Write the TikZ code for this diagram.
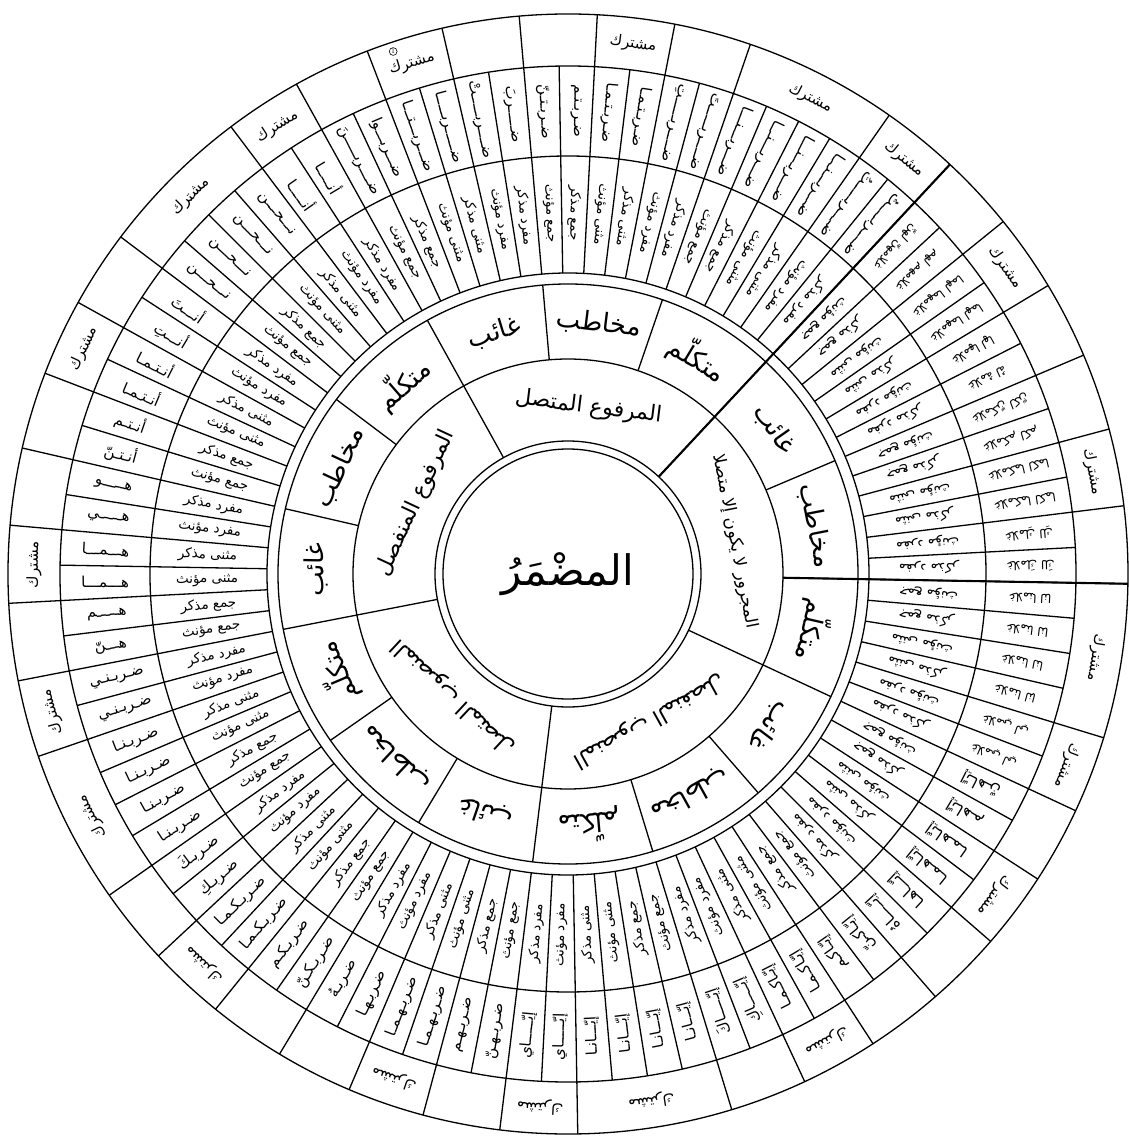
\documentclass[tikz,border=0pt]{standalone}
\usepackage{fontspec}
\newfontfamily\arabicfont[Script=Arabic]{DejaVu Sans}
\TeXXeTstate=1
\newcommand{\AR}[1]{{\arabicfont\beginR #1\endR}}
\newcommand{\formring}[3]{%
  \foreach \mytxt [count=\cc from 0] in {#3}{%
    \pgfmathsetmacro\angm{47+72*#1+4*\cc+2}%
    \node[formtext, font=\fontsize{#2}{#2}\selectfont, rotate=\angm-180]
      (form-#1-\cc) at (\angm:463pt) {\arabicfont\mytxt};%
  }%
}
\begin{document}
\begin{tikzpicture}[x=1pt,y=1pt,
  every node/.style={inner sep=0pt, outer sep=0pt},
  ringline/.style={line width=1.3pt, black},
  heavyline/.style={line width=2.1pt, black},
  formtext/.style={black},
  centretext/.style={font=\fontsize{42}{48}\selectfont},
  sectiontext/.style={font=\fontsize{22}{26}\selectfont},
  persontext/.style={font=\fontsize{26}{30}\selectfont},
  labeltext/.style={font=\fontsize{13.5}{15}\selectfont},
  sharedtext/.style={font=\fontsize{15}{17}\selectfont},
]
\useasboundingbox (-568,-567) rectangle (561,574);
\fill[white] (-568,-567) rectangle (561,574);

% concentric circles
\foreach \rad in {125,133,215,290,301,418,508,560}
  \draw[ringline] (0,0) circle (\rad pt);

% section boundaries
\foreach \sk in {0,...,4}
  \draw[ringline] (47+72*\sk:133pt) -- (47+72*\sk:215pt);
% person boundaries
\foreach \cj in {0,...,14}
  \draw[ringline] (47+24*\cj:215pt) -- (47+24*\cj:290pt);
% cell boundaries (labels and forms)
\foreach \ci in {0,...,89}
  \draw[ringline] (47+4*\ci:301pt) -- (47+4*\ci:508pt);
% outer ring groups
\foreach \sk in {0,...,4}
  \foreach \off in {0,8,24,32,40,48,56,64}
    \draw[ringline] (47+72*\sk+\off:508pt) -- (47+72*\sk+\off:560pt);
% heavier lines
\draw[heavyline] (47:133pt) -- (47:560pt);
\draw[heavyline] (-1:215pt) -- (-1:560pt);

% centre
\node[centretext] (centre) at (0,0) {\AR{المضْمَرُ}};

% sections
\node[sectiontext, rotate=83-90] (sec-0) at (83:168pt) {\AR{المرفوع المتصل}};
\node[sectiontext, rotate=155-90] (sec-1) at (155:168pt) {\AR{المرفوع المنفصل}};
\node[sectiontext, rotate=227-90] (sec-2) at (227:168pt) {\AR{المنصوب المتصل}};
\node[sectiontext, rotate=299-90] (sec-3) at (299:168pt) {\AR{المنصوب المنفصل}};
\node[font=\fontsize{17}{20}\selectfont, rotate=11-90] (sec-4) at (11:170pt) {\AR{المجرور لا يكون إلا متصلا}};

% persons
\foreach \cj in {0,...,14}{
  \pgfmathtruncatemacro\pp{mod(\cj,3)}
  \pgfmathsetmacro\angm{47+24*\cj+12}
  \ifcase\pp \def\mytxt{متكلّم}\or \def\mytxt{مخاطب}\or \def\mytxt{غائب}\fi
  \node[persontext, rotate=\angm-90] (per-\cj) at (\angm:252pt) {\AR{\mytxt}};
}

% labels
\foreach \ci in {0,...,89}{
  \pgfmathtruncatemacro\pp{mod(\ci,6)}
  \pgfmathsetmacro\angm{47+4*\ci+2}
  \ifcase\pp \def\mytxt{\beginR مفرد مذكر\endR}\or \def\mytxt{\beginR مفرد مؤنث\endR}\or
    \def\mytxt{\beginR مثنى مذكر\endR}\or \def\mytxt{\beginR مثنى مؤنث\endR}\or
    \def\mytxt{\beginR جمع مذكر\endR}\or \def\mytxt{\beginR جمع مؤنث\endR}\fi
  \node[labeltext, rotate=\angm-180] (lab-\ci) at (\angm:361pt) {\arabicfont\mytxt};
}

% forms
\formring{0}{15}{\beginR ضــــربـــــتُ\endR,\beginR ضــــربـــــتُ\endR,\beginR ضـــربـــنـــا\endR,\beginR ضـــربـــنـــا\endR,\beginR ضـــربـــنـــا\endR,\beginR ضـــربـــنـــا\endR,\beginR ضــــربـــــتَ\endR,\beginR ضــــربـــــتِ\endR,\beginR ضـربـتـمـا\endR,\beginR ضـربـتـمـا\endR,\beginR ضـربـتـم\endR,\beginR ضـربـتـنّ\endR,\beginR ضـــــربَ\endR,\beginR ضــــربـــــتْ\endR,\beginR ضـــــربـــــا\endR,\beginR ضـــربـــتـــا\endR,\beginR ضـــربـــوا\endR,\beginR ضــــربـــــنَ\endR}
\formring{1}{15}{\beginR أنـــــا\endR,\beginR أنـــــا\endR,\beginR نـــحـــن\endR,\beginR نـــحـــن\endR,\beginR نـــحـــن\endR,\beginR نـــحـــن\endR,\beginR أنـــتَ\endR,\beginR أنـــتِ\endR,\beginR أنـتـمـا\endR,\beginR أنـتـمـا\endR,\beginR أنـتـم\endR,\beginR أنـتـنّ\endR,\beginR هـــــو\endR,\beginR هـــــي\endR,\beginR هـــمـــا\endR,\beginR هـــمـــا\endR,\beginR هـــــم\endR,\beginR هـــنّ\endR}
\formring{2}{15}{\beginR ضـربـنـي\endR,\beginR ضـربـنـي\endR,\beginR ضـربـنـا\endR,\beginR ضـربـنـا\endR,\beginR ضـربـنـا\endR,\beginR ضـربـنـا\endR,\beginR ضـربـكَ\endR,\beginR ضـربـكِ\endR,\beginR ضـربـكـمـا\endR,\beginR ضـربـكـمـا\endR,\beginR ضـربـكـم\endR,\beginR ضـربـكـنّ\endR,\beginR ضـربـهُ\endR,\beginR ضـربـهـا\endR,\beginR ضـربـهـمـا\endR,\beginR ضـربـهـمـا\endR,\beginR ضـربـهـم\endR,\beginR ضـربـهـنّ\endR}
\formring{3}{15}{\beginR إيّـــــاي\endR,\beginR إيّـــــاي\endR,\beginR إيّـــانـا\endR,\beginR إيّـــانـا\endR,\beginR إيّـــانـا\endR,\beginR إيّـــانـا\endR,\beginR إيّـــــاكَ\endR,\beginR إيّـــــاكِ\endR,\beginR إيّـاكـمـا\endR,\beginR إيّـاكـمـا\endR,\beginR إيّـاكـم\endR,\beginR إيّـاكـنّ\endR,\beginR إيّـــــاهُ\endR,\beginR إيّـــاهـا\endR,\beginR إيّـاهـمـا\endR,\beginR إيّـاهـمـا\endR,\beginR إيّـاهـم\endR,\beginR إيّـاهـنّ\endR}
\formring{4}{12}{\beginR غلامي لي\endR,\beginR غلامي لي\endR,\beginR غلامنا لنا\endR,\beginR غلامنا لنا\endR,\beginR غلامنا لنا\endR,\beginR غلامنا لنا\endR,\beginR غلامكَ لكَ\endR,\beginR غلامكِ لكِ\endR,\beginR غلامكما لكما\endR,\beginR غلامكما لكما\endR,\beginR غلامكم لكم\endR,\beginR غلامكنّ لكنّ\endR,\beginR غلامهُ لهُ\endR,\beginR غلامها لها\endR,\beginR غلامهما لهما\endR,\beginR غلامهما لهما\endR,\beginR غلامهم لهم\endR,\beginR غلامهنّ لهنّ\endR}

% outer ring: shared
\foreach \sk in {0,...,4}
  \foreach \off [count=\cn] in {4,16,36,60}{
    \pgfmathsetmacro\angm{47+72*\sk+\off}
    \node[sharedtext, rotate=\angm-90] (sh-\sk-\cn) at (\angm:534pt) {\AR{مشترك}};
  }
\node[draw, circle, line width=0.6pt, inner sep=0.6pt, font=\fontsize{7}{8}\selectfont] (note) at (108.5:551pt) {1};
\end{tikzpicture}
\end{document}
